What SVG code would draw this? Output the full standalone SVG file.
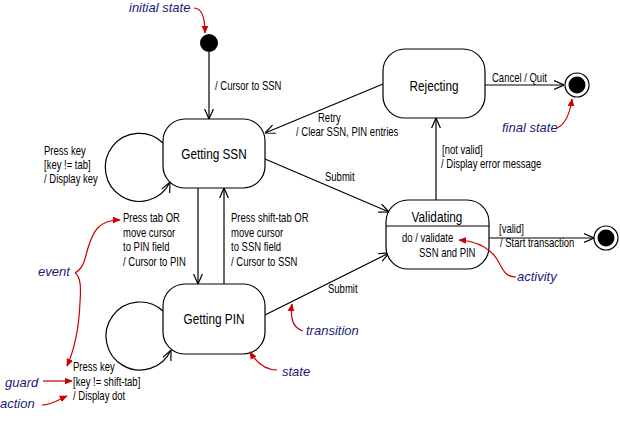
<svg xmlns="http://www.w3.org/2000/svg" width="620" height="421" viewBox="0 0 620 421">
<style>
.bg{fill:#fff}
.state{fill:#fff;stroke:#000;stroke-width:1.2}
.name{font-family:"Liberation Sans",sans-serif;font-size:15.5px;fill:#000;text-anchor:middle}
.lbl{font-family:"Liberation Sans",sans-serif;font-size:12.5px;fill:#000}
.note{font-family:"Liberation Sans",sans-serif;font-size:13px;font-style:italic;fill:#1a1a78}
.tr{fill:none;stroke:#000;stroke-width:1.2;marker-end:url(#open)}
.ann{fill:none;stroke:#cc0000;stroke-width:1.2;marker-end:url(#red)}
</style>
<defs>
<marker id="open" viewBox="0 0 10 10" refX="10" refY="5" markerWidth="10" markerHeight="10" markerUnits="userSpaceOnUse" orient="auto">
<path d="M0,0.6 L10,5 L0,9.4" fill="none" stroke="#000" stroke-width="1.2"/>
</marker>
<marker id="red" viewBox="0 0 10 10" refX="9" refY="5" markerWidth="8" markerHeight="8" markerUnits="userSpaceOnUse" orient="auto">
<path d="M0,0.8 L10,5 L0,9.2 Z" fill="#cc0000"/>
</marker>
</defs>
<rect class="bg" x="0" y="0" width="620" height="421"/>

<g id="connectors">
<path class="tr" d="M209,52 L209,119"/>
<path class="tr" d="M163,143 A34,34 0 1 0 170,182"/>
<path class="tr" d="M163,311 A34,34 0 1 0 171,350"/>
<path class="tr" d="M198,188 L198,284"/>
<path class="tr" d="M224,284 L224,188"/>
<path class="tr" d="M265,159 L389,212"/>
<path class="tr" d="M265,315 L389,253"/>
<path class="tr" d="M436,200 L436,118"/>
<path class="tr" d="M383,84 L265,133"/>
<path class="tr" d="M485,85 L564,85"/>
<path class="tr" d="M489,238 L594,238"/>
<text class="lbl" transform="matrix(0.76 0 0 1 215 90)">/ Cursor to SSN</text>
<text class="lbl" transform="matrix(0.76 0 0 1 44 155)">Press key</text>
<text class="lbl" transform="matrix(0.76 0 0 1 44 169)">[key != tab]</text>
<text class="lbl" transform="matrix(0.76 0 0 1 44 183)">/ Display key</text>
<text class="lbl" transform="matrix(0.76 0 0 1 123 222)">Press tab OR</text>
<text class="lbl" transform="matrix(0.76 0 0 1 123 236.5)">move cursor</text>
<text class="lbl" transform="matrix(0.76 0 0 1 123 251)">to PIN field</text>
<text class="lbl" transform="matrix(0.76 0 0 1 123 265.5)">/ Cursor to PIN</text>
<text class="lbl" transform="matrix(0.76 0 0 1 231 222)">Press shift-tab OR</text>
<text class="lbl" transform="matrix(0.76 0 0 1 231 236.5)">move cursor</text>
<text class="lbl" transform="matrix(0.76 0 0 1 231 251)">to SSN field</text>
<text class="lbl" transform="matrix(0.76 0 0 1 231 265.5)">/ Cursor to SSN</text>
<text class="lbl" transform="matrix(0.76 0 0 1 73 371)">Press key</text>
<text class="lbl" transform="matrix(0.76 0 0 1 73 385.5)">[key != shift-tab]</text>
<text class="lbl" transform="matrix(0.76 0 0 1 73 400)">/ Display dot</text>
<text class="lbl" transform="matrix(0.76 0 0 1 325 181)">Submit</text>
<text class="lbl" transform="matrix(0.76 0 0 1 328 293)">Submit</text>
<text class="lbl" transform="matrix(0.76 0 0 1 318 122)">Retry</text>
<text class="lbl" transform="matrix(0.76 0 0 1 296 136)">/ Clear SSN, PIN entries</text>
<text class="lbl" transform="matrix(0.76 0 0 1 442 154)">[not valid]</text>
<text class="lbl" transform="matrix(0.76 0 0 1 441 168)">/ Display error message</text>
<text class="lbl" transform="matrix(0.76 0 0 1 492 82)">Cancel / Quit</text>
<text class="lbl" transform="matrix(0.76 0 0 1 499 233)">[valid]</text>
<text class="lbl" transform="matrix(0.76 0 0 1 500 247)">/ Start transaction</text>
</g>

<g id="initial">
<circle cx="209" cy="43" r="9" fill="#000"/>
</g>
<g id="getting-ssn">
<rect class="state" x="163" y="119" width="102" height="69" rx="22" ry="22"/>
<text class="name" transform="matrix(0.76 0 0 1 214 159)">Getting SSN</text>
</g>
<g id="getting-pin">
<rect class="state" x="163" y="284" width="102" height="70" rx="22" ry="22"/>
<text class="name" transform="matrix(0.76 0 0 1 214 324)">Getting PIN</text>
</g>
<g id="rejecting">
<rect class="state" x="383" y="49" width="102" height="69" rx="22" ry="22"/>
<text class="name" transform="matrix(0.76 0 0 1 434 91)">Rejecting</text>
</g>
<g id="validating">
<rect class="state" x="386" y="200" width="103" height="69" rx="22" ry="22"/>
<line x1="386" y1="226" x2="489" y2="226" stroke="#000" stroke-width="1.2"/>
<text class="name" transform="matrix(0.76 0 0 1 437 222)">Validating</text>
<text class="lbl" transform="matrix(0.76 0 0 1 402 242)">do / validate</text>
<text class="lbl" transform="matrix(0.76 0 0 1 419 257)">SSN and PIN</text>
</g>
<g id="final-1">
<circle cx="577" cy="85" r="12" fill="#fff" stroke="#000" stroke-width="1.2"/>
<circle cx="577" cy="85" r="8.5" fill="#000"/>
</g>
<g id="final-2">
<circle cx="606" cy="238" r="12" fill="#fff" stroke="#000" stroke-width="1.2"/>
<circle cx="606" cy="238" r="8.5" fill="#000"/>
</g>

<g id="annotations">
<text class="note" x="129" y="12">initial state</text>
<path class="ann" d="M194,8 C201,8 205,17 205,33"/>
<text class="note" x="502" y="132">final state</text>
<path class="ann" d="M557,128 C566,124 570,113 572,99"/>
<text class="note" x="38" y="276">event</text>
<path class="ann" d="M75,273 C84,268 85,258 88,248 C93,232 98,220 120,220"/>
<path class="ann" d="M75,273 C81,277 81,288 80,302 C79,330 75,348 67,366"/>
<text class="note" x="5" y="387">guard</text>
<path class="ann" d="M43,381 L72,381"/>
<text class="note" x="0" y="408">action</text>
<path class="ann" d="M42,405 C52,405 58,400 67,396"/>
<text class="note" x="306" y="335">transition</text>
<path class="ann" d="M303,331 C293,328 290,318 292,304"/>
<text class="note" x="282" y="376">state</text>
<path class="ann" d="M277,370 C265,370 256,362 250,352"/>
<text class="note" x="517" y="281">activity</text>
<path class="ann" d="M516,277 C501,277 502,262 492,253 C484,245 474,241 459,240"/>
</g>
</svg>
